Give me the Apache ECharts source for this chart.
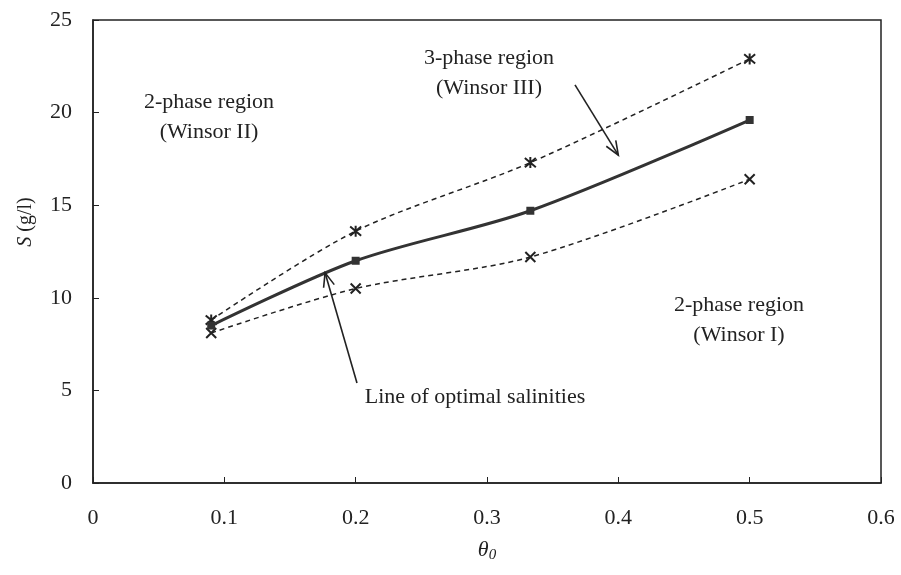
<!DOCTYPE html>
<html>
<head>
<meta charset="utf-8">
<script src="https://cdn.jsdelivr.net/npm/echarts@6/dist/echarts.min.js"></script>
<style>
  html, body { margin: 0; padding: 0; background: #fff; }
  #chart { width: 901px; height: 575px; }
</style>
</head>
<body>
<div id="chart"></div>
<script>
// theta_0 values of the measured points
const theta = [0.09, 0.2, 0.333, 0.5];
// optimal salinity line (solid, square markers)
const optimal = [8.5, 12.0, 14.7, 19.6];
// upper boundary of the 3-phase region (asterisks)
const upperBound = [8.8, 13.6, 17.3, 22.9];
// lower boundary of the 3-phase region (crosses)
const lowerBound = [8.1, 10.5, 12.2, 16.4];

const xTicks = [0, 0.1, 0.2, 0.3, 0.4, 0.5, 0.6];
const yTicks = [0, 5, 10, 15, 20, 25];

// annotation arrows, [from, to] in data units
const arrows = [
  [[0.367, 21.5], [0.4, 17.7]],
  [[0.201, 5.4], [0.1767, 11.35]]
];

const pairs = (ys) => theta.map((x, i) => [x, ys[i]]);

const serif = '"Liberation Serif", "DejaVu Serif", serif';
const ink = '#222';

const chart = echarts.init(document.getElementById('chart'), null, { renderer: 'canvas' });

const labelStyle = (extra) => Object.assign({
  font: '22px ' + serif, fill: ink, align: 'center', verticalAlign: 'top', lineHeight: 30
}, extra);

const option = {
  backgroundColor: '#fff',
  animation: false,
  grid: { left: 93, right: 20, top: 20, bottom: 92 },
  xAxis: {
    type: 'value',
    min: 0, max: 0.6, interval: 0.1,
    name: '{i|θ}{s|0}',
    nameLocation: 'middle',
    nameGap: 55,
    nameTextStyle: {
      rich: {
        i: { fontFamily: serif, fontStyle: 'italic', fontSize: 22, color: ink },
        s: { fontFamily: serif, fontStyle: 'italic', fontSize: 15, color: ink, verticalAlign: 'bottom', padding: [10, 0, 0, 0] }
      }
    },
    axisLine: { onZero: false, lineStyle: { color: ink, width: 1.5 } },
    axisTick: { inside: true, length: 6, lineStyle: { color: ink, width: 1 } },
    axisLabel: {
      margin: 24, fontFamily: serif, fontSize: 22, color: ink,
      formatter: (v) => xTicks.includes(+v.toFixed(1)) ? String(+v.toFixed(1)) : ''
    },
    splitLine: { show: false }
  },
  yAxis: {
    type: 'value',
    min: 0, max: 25, interval: 5,
    axisLine: { onZero: false, lineStyle: { color: ink, width: 1.5 } },
    axisTick: { inside: true, length: 6, lineStyle: { color: ink, width: 1 } },
    axisLabel: {
      margin: 21, fontFamily: serif, fontSize: 22, color: ink,
      formatter: (v) => yTicks.includes(v) ? String(v) : ''
    },
    splitLine: { show: false }
  },
  series: [
    {
      name: 'upper',
      type: 'line',
      data: pairs(upperBound),
      smooth: 0.3,
      symbol: 'path://M0,0L10,10M10,0L0,10M5,-1L5,11',
      symbolSize: 11,
      itemStyle: { color: 'none', borderColor: ink, borderWidth: 2 },
      lineStyle: { color: ink, width: 1.5, type: [5, 4] },
      z: 3
    },
    {
      name: 'optimal',
      type: 'line',
      data: pairs(optimal),
      smooth: 0.3,
      symbol: 'rect',
      symbolSize: 8,
      itemStyle: { color: '#333' },
      lineStyle: { color: '#333', width: 3 },
      z: 4
    },
    {
      name: 'lower',
      type: 'line',
      data: pairs(lowerBound),
      smooth: 0.3,
      symbol: 'path://M0,0L10,10M10,0L0,10',
      symbolSize: 10,
      itemStyle: { color: 'none', borderColor: ink, borderWidth: 2 },
      lineStyle: { color: ink, width: 1.5, type: [5, 4] },
      z: 3
    }
  ]
};

chart.setOption(option);

// frame, annotations and arrows placed after the grid exists
const rect = chart.getModel().getComponent('grid').coordinateSystem.getRect();
const graphics = [
  {
    type: 'rect', silent: true, z: 0,
    shape: { x: rect.x, y: rect.y, width: rect.width, height: rect.height },
    style: { fill: 'none', stroke: ink, lineWidth: 1.5 }
  },
  { type: 'text', x: 209, y: 87, silent: true, style: labelStyle({ text: '2-phase region\n(Winsor II)' }) },
  { type: 'text', x: 489, y: 43, silent: true, style: labelStyle({ text: '3-phase region\n(Winsor III)' }) },
  { type: 'text', x: 739, y: 290, silent: true, style: labelStyle({ text: '2-phase region\n(Winsor I)' }) },
  { type: 'text', x: 475, y: 382, silent: true, style: labelStyle({ text: 'Line of optimal salinities' }) },
  {
    type: 'text', x: 26, y: 222, rotation: Math.PI / 2, silent: true,
    style: {
      text: '{i|S} (g/l)', font: '20px ' + serif, fill: ink, align: 'center', verticalAlign: 'middle',
      rich: { i: { fontFamily: serif, fontStyle: 'italic', fontSize: 20, color: ink } }
    }
  }
];

arrows.forEach(([from, to]) => {
  const p0 = chart.convertToPixel({ gridIndex: 0 }, from);
  const p1 = chart.convertToPixel({ gridIndex: 0 }, to);
  const ang = Math.atan2(p1[1] - p0[1], p1[0] - p0[0]);
  const head = 15, spread = 0.38;
  const h1 = [p1[0] - head * Math.cos(ang - spread), p1[1] - head * Math.sin(ang - spread)];
  const h2 = [p1[0] - head * Math.cos(ang + spread), p1[1] - head * Math.sin(ang + spread)];
  graphics.push({
    type: 'polyline', silent: true, z: 10,
    shape: { points: [p0, p1] },
    style: { stroke: ink, lineWidth: 1.6, fill: 'none' }
  });
  graphics.push({
    type: 'polyline', silent: true, z: 10,
    shape: { points: [h1, p1, h2] },
    style: { stroke: ink, lineWidth: 1.6, fill: 'none' }
  });
});

chart.setOption({ graphic: graphics });
window.addEventListener('resize', () => chart.resize());
</script>
</body>
</html>
